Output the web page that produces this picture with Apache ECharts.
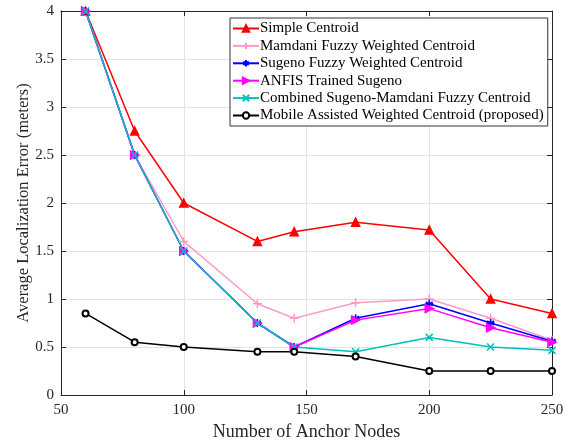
<!DOCTYPE html>
<html><head><meta charset="utf-8">
<script src="https://cdn.jsdelivr.net/npm/echarts@6/dist/echarts.min.js"></script>
<style>html,body{margin:0;padding:0;background:#fff}#c{width:577px;height:443px}</style>
</head><body><div id="c"></div>
<script>
const anchors = [60, 80, 100, 130, 145, 170, 200, 225, 250];
const simpleCentroid = [4.0, 2.75, 2.0, 1.6, 1.7, 1.8, 1.72, 1.0, 0.85];
const mamdani = [4.0, 2.5, 1.6, 0.95, 0.8, 0.96, 1.0, 0.8, 0.57];
const sugeno = [4.0, 2.5, 1.5, 0.75, 0.5, 0.8, 0.95, 0.75, 0.56];
const anfis = [4.0, 2.5, 1.5, 0.75, 0.5, 0.78, 0.9, 0.7, 0.55];
const combined = [4.0, 2.5, 1.5, 0.75, 0.5, 0.45, 0.6, 0.5, 0.465];
const mobile = [0.85, 0.55, 0.5, 0.45, 0.45, 0.4, 0.25, 0.25, 0.25];
const seriesNames = ['Simple Centroid','Mamdani Fuzzy Weighted Centroid','Sugeno Fuzzy Weighted Centroid','ANFIS Trained Sugeno','Combined Sugeno-Mamdani Fuzzy Centroid','Mobile Assisted Weighted Centroid (proposed)'];

const font = 'Liberation Serif';
const axisColor = '#262626';
function pairs(v){ return anchors.map((x,i)=>[x,v[i]]); }
function mk(name, data, color, symbol, size, extra){
  return Object.assign({
    name, type:'line', data: pairs(data), symbol, symbolSize: size,
    lineStyle:{color, width:1.5}, itemStyle:{color, borderColor:color, borderWidth:1.5},
    emphasis:{disabled:true}, animation:false, clip:true
  }, extra||{});
}
const plusPath = 'path://M0,5L10,5M5,0L5,10';
const starPath = 'path://M5,0L5,10M0.7,2.5L9.3,7.5M0.7,7.5L9.3,2.5M0,5L10,5';
const xPath = 'path://M0,0L10,10M0,10L10,0';

const chart = echarts.init(document.getElementById('c'));
chart.setOption({
  backgroundColor:'#fff',
  animation:false,
  textStyle:{fontFamily:font},
  grid:{left:61, right:25, top:11, bottom:48, containLabel:false, outerBoundsMode:'none'},
  xAxis:[{
    type:'value', min:50, max:250, interval:50,
    name:'Number of Anchor Nodes', nameLocation:'middle', nameGap:28,
    nameTextStyle:{fontFamily:font, fontSize:18, color:axisColor},
    axisLine:{show:true, onZero:false, lineStyle:{color:axisColor, width:1}},
    axisTick:{show:true, inside:true, length:5, lineStyle:{color:axisColor}},
    axisLabel:{fontFamily:font, fontSize:15, color:axisColor, margin:8},
    splitLine:{show:true, lineStyle:{color:'#e3e3e3', width:1}}
  },{
    type:'value', min:50, max:250, interval:50, position:'top',
    axisLine:{show:true, onZero:false, lineStyle:{color:axisColor, width:1}},
    axisTick:{show:true, inside:true, length:5, lineStyle:{color:axisColor}},
    axisLabel:{show:false}, splitLine:{show:false}
  }],
  yAxis:[{
    type:'value', min:0, max:4, interval:0.5,
    name:'Average Localization Error (meters)', nameLocation:'middle', nameGap:29,
    nameMoveOverlap:false,
    nameTextStyle:{fontFamily:font, fontSize:16.5, color:axisColor},
    axisLine:{show:true, onZero:false, lineStyle:{color:axisColor, width:1}},
    axisTick:{show:true, inside:true, length:5, lineStyle:{color:axisColor}},
    axisLabel:{fontFamily:font, fontSize:15, color:axisColor, margin:7},
    splitLine:{show:true, lineStyle:{color:'#e3e3e3', width:1}}
  },{
    type:'value', min:0, max:4, interval:0.5, position:'right',
    axisLine:{show:true, onZero:false, lineStyle:{color:axisColor, width:1}},
    axisTick:{show:true, inside:true, length:5, lineStyle:{color:axisColor}},
    axisLabel:{show:false}, splitLine:{show:false}
  }],
  legend:{
    orient:'vertical', left:230, top:18,
    backgroundColor:'#fff', borderColor:'#333', borderWidth:1,
    padding:[3,4,3,2], itemGap:2.4, itemWidth:26, itemHeight:8,
    textStyle:{fontFamily:font, fontSize:15, color:'#000', padding:[0,0,0,-4]},
    data: seriesNames
  },
  series:[
    mk(seriesNames[0], simpleCentroid, '#ff0000', 'triangle', 8),
    mk(seriesNames[1], mamdani, '#ff9ac8', plusPath, 9),
    mk(seriesNames[2], sugeno, '#0000ff', starPath, 8),
    mk(seriesNames[3], anfis, '#ff00ff', 'triangle', 8, {symbolRotate:-90}),
    mk(seriesNames[4], combined, '#00bfbf', xPath, 7),
    mk(seriesNames[5], mobile, '#000000', 'emptyCircle', 6)
  ]
});
</script></body></html>
